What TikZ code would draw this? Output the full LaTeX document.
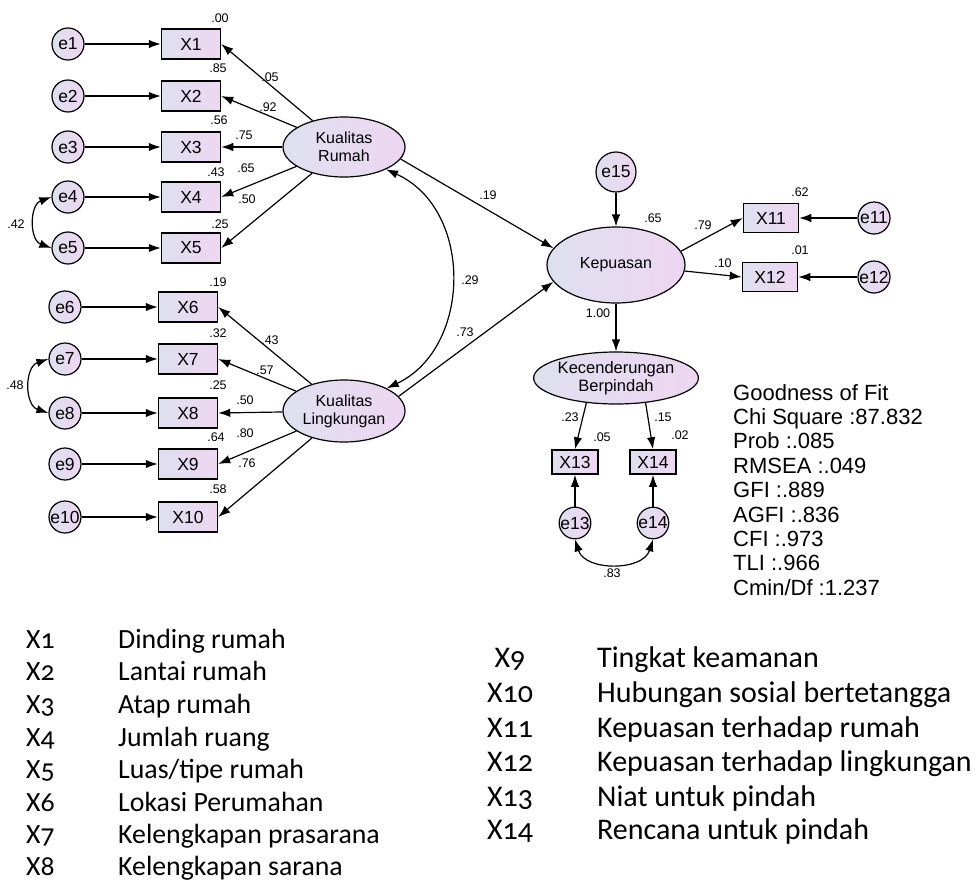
\documentclass[tikz,border=0pt]{standalone}
\usepackage{fontspec}
\setmainfont{Liberation Sans}
\newfontfamily\legendfont[Numbers=OldStyle]{Carlito}
\usetikzlibrary{shapes.geometric,arrows.meta}
\definecolor{fillL}{RGB}{222,224,238}
\definecolor{fillR}{RGB}{238,214,242}

\begin{document}
\begin{tikzpicture}[x=1pt,y=-1pt,
  obs/.style={draw,line width=1.5pt,left color=fillL,right color=fillR,minimum width=59pt,minimum height=30pt,inner sep=0pt,font=\fontsize{17.5}{17.5}\selectfont},
  err/.style={circle,draw,line width=1.2pt,left color=fillL,right color=fillR,minimum size=32pt,inner sep=0pt,font=\fontsize{17.5}{17.5}\selectfont},
  lat/.style={ellipse,draw,line width=1.2pt,left color=fillL,right color=fillR,inner sep=0pt,align=center,font=\fontsize{16}{18}\selectfont},
  arr/.style={-{Latex[length=12pt,width=8.5pt]},line width=1.2pt},
  cov/.style={{Latex[length=12pt,width=8.5pt]}-{Latex[length=12pt,width=8.5pt]},line width=1.2pt},
  lbl/.style={font=\fontsize{12.5}{12.5}\selectfont,inner sep=0pt},
  leg/.style={anchor=base west,inner sep=0pt,font=\legendfont\fontsize{27.8}{30}\selectfont},
  legr/.style={leg,font=\legendfont\fontsize{30}{32}\selectfont}]
\useasboundingbox (0,0) rectangle (978,881);

% errors and indicators, Kualitas Rumah
\node[err] (e1) at (68,44) {e1};
\node[err] (e2) at (68,96) {e2};
\node[err] (e3) at (68,147) {e3};
\node[err] (e4) at (68,197) {e4};
\node[err] (e5) at (68,248) {e5};
\node[obs] (X1) at (191,44) {X1};
\node[obs] (X2) at (191,96) {X2};
\node[obs] (X3) at (191,147) {X3};
\node[obs] (X4) at (191,197) {X4};
\node[obs] (X5) at (191,248) {X5};
\node[lat,minimum width=122pt,minimum height=60pt] (KR) at (344,147) {Kualitas\\Rumah};

% errors and indicators, Kualitas Lingkungan
\node[err] (e6) at (65,307) {e6};
\node[err] (e7) at (65,359) {e7};
\node[err] (e8) at (65,413) {e8};
\node[err] (e9) at (65,464) {e9};
\node[err] (e10) at (65,517) {e10};
\node[obs] (X6) at (188,307) {X6};
\node[obs] (X7) at (188,359) {X7};
\node[obs] (X8) at (188,413) {X8};
\node[obs] (X9) at (188,464) {X9};
\node[obs] (X10) at (188,517) {X10};
\node[lat,minimum width=122pt,minimum height=62pt] (KL) at (344,411) {Kualitas\\Lingkungan};

% Kepuasan and Kecenderungan Berpindah
\node[lat,minimum width=138pt,minimum height=76pt] (Kep) at (616,265) {Kepuasan};
\node[err,minimum size=40pt] (e15) at (616,172) {e15};
\node[obs,minimum width=55pt,minimum height=29pt] (X11) at (771,218) {X11};
\node[obs,minimum width=55pt,minimum height=29pt] (X12) at (770,277) {X12};
\node[err] (e11) at (874,218) {e11};
\node[err] (e12) at (874,277) {e12};
\node[lat,minimum width=130pt,minimum height=52pt,font=\fontsize{16.5}{18}\selectfont] (KB) at (616,378) {Kecenderungan\\Berpindah};
\node[obs,minimum width=46pt,minimum height=24pt] (X13) at (575,462) {X13};
\node[obs,minimum width=46pt,minimum height=24pt] (X14) at (653,462) {X14};
\node[err,minimum size=28pt] (e13) at (575,523) {e13};
\node[err,minimum size=28pt] (e14) at (653,523) {e14};

% paths
\draw[arr] (e1) -- (X1);
\draw[arr] (e2) -- (X2);
\draw[arr] (e3) -- (X3);
\draw[arr] (e4) -- (X4);
\draw[arr] (e5) -- (X5);
\draw[arr] (KR) -- (X1.east);
\draw[arr] (KR) -- (X2.east);
\draw[arr] (KR) -- (X3.east);
\draw[arr] (KR) -- (X4.east);
\draw[arr] (KR) -- (X5.east);
\draw[cov] (e4.west) .. controls +(-22,8) and +(-22,-8) .. (e5.west);
\draw[arr] (e6) -- (X6);
\draw[arr] (e7) -- (X7);
\draw[arr] (e8) -- (X8);
\draw[arr] (e9) -- (X9);
\draw[arr] (e10) -- (X10);
\draw[arr] (KL) -- (X6.east);
\draw[arr] (KL) -- (X7.east);
\draw[arr] (KL) -- (X8.east);
\draw[arr] (KL) -- (X9.east);
\draw[arr] (KL) -- (X10.east);
\draw[cov] (e7.west) .. controls +(-24,8) and +(-24,-8) .. (e8.west);
\draw[cov] (KR.-28) .. controls +(88,40) and +(85,-40) .. (KL.28);
\draw[arr] (KR.-12) -- (Kep.165);
\draw[arr] (KL.15) -- (Kep.195);
\draw[arr] (e15) -- (Kep);
\draw[arr] (Kep.12) -- (X11.west);
\draw[arr] (Kep.-5) -- (X12.west);
\draw[arr] (e11) -- (X11);
\draw[arr] (e12) -- (X12);
\draw[arr] (Kep) -- (KB);
\draw[arr] (KB.-140) -- (X13.north);
\draw[arr] (KB.-40) -- (X14.north);
\draw[arr] (e13) -- (X13);
\draw[arr] (e14) -- (X14);
\draw[cov] (e13.south) .. controls +(10,32) and +(-10,32) .. (e14.south);

% estimates
\node[lbl] (r1) at (220,18) {.00};
\node[lbl] (r2) at (218,68) {.85};
\node[lbl] (r3) at (219,120) {.56};
\node[lbl] (r4) at (216,172) {.43};
\node[lbl] (r5) at (220,224) {.25};
\node[lbl] (l1) at (270,77) {.05};
\node[lbl] (l2) at (268,107) {.92};
\node[lbl] (l3) at (244,135) {.75};
\node[lbl] (l4) at (246,168) {.65};
\node[lbl] (l5) at (247,199) {.50};
\node[lbl] (c45) at (16,224) {.42};
\node[lbl] (r6) at (218,282) {.19};
\node[lbl] (r7) at (218,333) {.32};
\node[lbl] (r8) at (218,385) {.25};
\node[lbl] (r9) at (216,437) {.64};
\node[lbl] (r10) at (218,489) {.58};
\node[lbl] (l6) at (270,340) {.43};
\node[lbl] (l7) at (265,370) {.57};
\node[lbl] (l8) at (245,400) {.50};
\node[lbl] (l9) at (245,433) {.80};
\node[lbl] (l10) at (247,463) {.76};
\node[lbl] (c78) at (15,385) {.48};
\node[lbl] (b1) at (488,195) {.19};
\node[lbl] (cKK) at (470,280) {.29};
\node[lbl] (b2) at (465,332) {.73};
\node[lbl] (rKep) at (653,218) {.65};
\node[lbl] (l11) at (703,225) {.79};
\node[lbl] (l12) at (723,263) {.10};
\node[lbl] (b3) at (598,313) {1.00};
\node[lbl] (r11) at (800,192) {.62};
\node[lbl] (r12) at (800,250) {.01};
\node[lbl] (l13) at (570,417) {.23};
\node[lbl] (l14) at (663,417) {.15};
\node[lbl] (r13) at (602,437) {.05};
\node[lbl] (r14) at (680,435) {.02};
\node[lbl] (c1314) at (612,573) {.83};

% goodness of fit
\node[anchor=north west,inner sep=0pt,align=left,font=\fontsize{22}{24.4}\selectfont] (gof) at (733,384)
  {Goodness of Fit\\Chi Square :87.832\\Prob :.085\\RMSEA :.049\\GFI :.889\\AGFI :.836\\CFI :.973\\TLI :.966\\Cmin/Df :1.237};

% legend
\foreach \k/\t/\y in {1/Dinding rumah/648.5, 2/Lantai rumah/680.5, 3/Atap rumah/713.5,
    4/Jumlah ruang/746.5, 5/Luas\slash tipe rumah/778.5, 6/Lokasi Perumahan/811.5,
    7/Kelengkapan prasarana/843.5, 8/Kelengkapan sarana/875.5}{
  \node[leg] (k\k) at (26,\y) {X\k};
  \node[leg] (d\k) at (118,\y) {\t};
}
\foreach \k/\t/\y in {9/Tingkat keamanan/667, 10/Hubungan sosial bertetangga/702,
    11/Kepuasan terhadap rumah/737, 12/Kepuasan terhadap lingkungan/771,
    13/Niat untuk pindah/806, 14/Rencana untuk pindah/839}{
  \node[legr,anchor=base] (k\k) at (510,\y) {X\k};
  \node[legr] (d\k) at (597,\y) {\t};
}
\end{tikzpicture}
\end{document}
